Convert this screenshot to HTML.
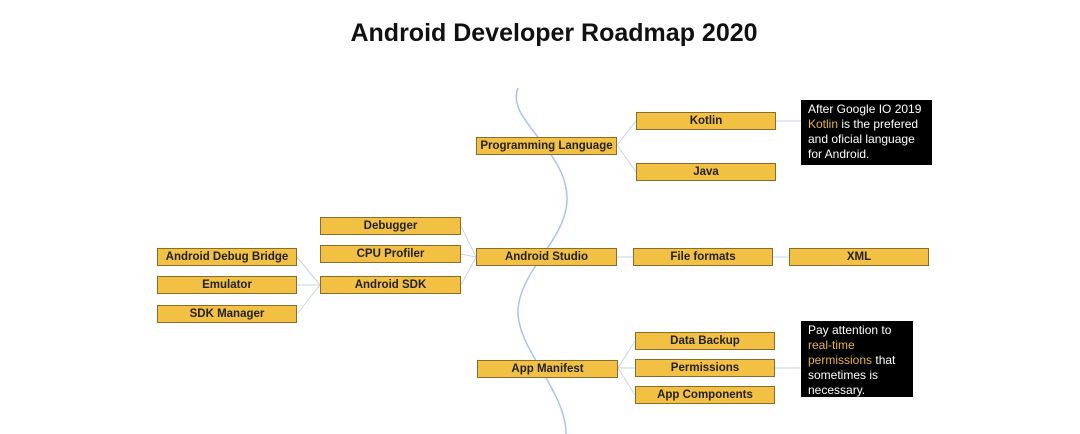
<!DOCTYPE html>
<html><head><style>
body{margin:0;width:1080px;height:434px;background:#fff;position:relative;overflow:hidden;font-family:"Liberation Sans",sans-serif}
.t{position:absolute;left:0;width:1108px;top:19px;text-align:center;font-size:25px;font-weight:bold;color:#111}
.b{position:absolute;height:16px;background:#f2c043;border:1px solid #8a6d2a;box-sizing:content-box;font-size:11.5px;font-weight:bold;color:#222;text-align:center;line-height:16px;white-space:nowrap}
.n{position:absolute;background:#000;color:#fff;font-size:12px;line-height:15px;padding:2px 7px;box-sizing:border-box}
.n span{color:#e6b43c}
svg{position:absolute;left:0;top:0}
</style></head><body>
<svg width="1080" height="434">
<path d="M518 88 C505 120,568 150,567 200 C566 240,520 270,518 310 C517 350,566 390,566 434" fill="none" stroke="#a9c3ee" stroke-width="1.5"/>
<g stroke="#c8d2ea" stroke-width="1" fill="none">
<path d="M617 145 L636 121 M617 145 L636 172 M776 121 L801 121 M617 257 L633 257 M773 257 L789 257 M461 226 L476 257 M461 254 L476 257 M461 285 L476 257 M297 257 L320 285 M297 285 L320 285 M297 314 L320 285 M618 368 L635 341 M618 368 L635 368 M618 368 L635 395 M775 368 L801 368"/>
</g>
</svg>
<div class="t">Android Developer Roadmap 2020</div>
<div class="b" style="left:476px;top:137px;width:139px">Programming Language</div>
<div class="b" style="left:636px;top:112px;width:138px">Kotlin</div>
<div class="b" style="left:636px;top:163px;width:138px">Java</div>
<div class="n" style="left:801px;top:100px;width:131px;height:65px">After Google IO 2019 <span>Kotlin</span> is the prefered and oficial language for Android.</div>
<div class="b" style="left:476px;top:248px;width:139px">Android Studio</div>
<div class="b" style="left:633px;top:248px;width:138px">File formats</div>
<div class="b" style="left:789px;top:248px;width:138px">XML</div>
<div class="b" style="left:320px;top:217px;width:139px">Debugger</div>
<div class="b" style="left:320px;top:245px;width:139px">CPU Profiler</div>
<div class="b" style="left:320px;top:276px;width:139px">Android SDK</div>
<div class="b" style="left:157px;top:248px;width:138px">Android Debug Bridge</div>
<div class="b" style="left:157px;top:276px;width:138px">Emulator</div>
<div class="b" style="left:157px;top:305px;width:138px">SDK Manager</div>
<div class="b" style="left:477px;top:360px;width:139px">App Manifest</div>
<div class="b" style="left:635px;top:332px;width:138px">Data Backup</div>
<div class="b" style="left:635px;top:359px;width:138px">Permissions</div>
<div class="b" style="left:635px;top:386px;width:138px">App Components</div>
<div class="n" style="left:801px;top:321px;width:112px;height:76px">Pay attention to <span>real-time permissions</span> that sometimes is necessary.</div>
</body></html>
